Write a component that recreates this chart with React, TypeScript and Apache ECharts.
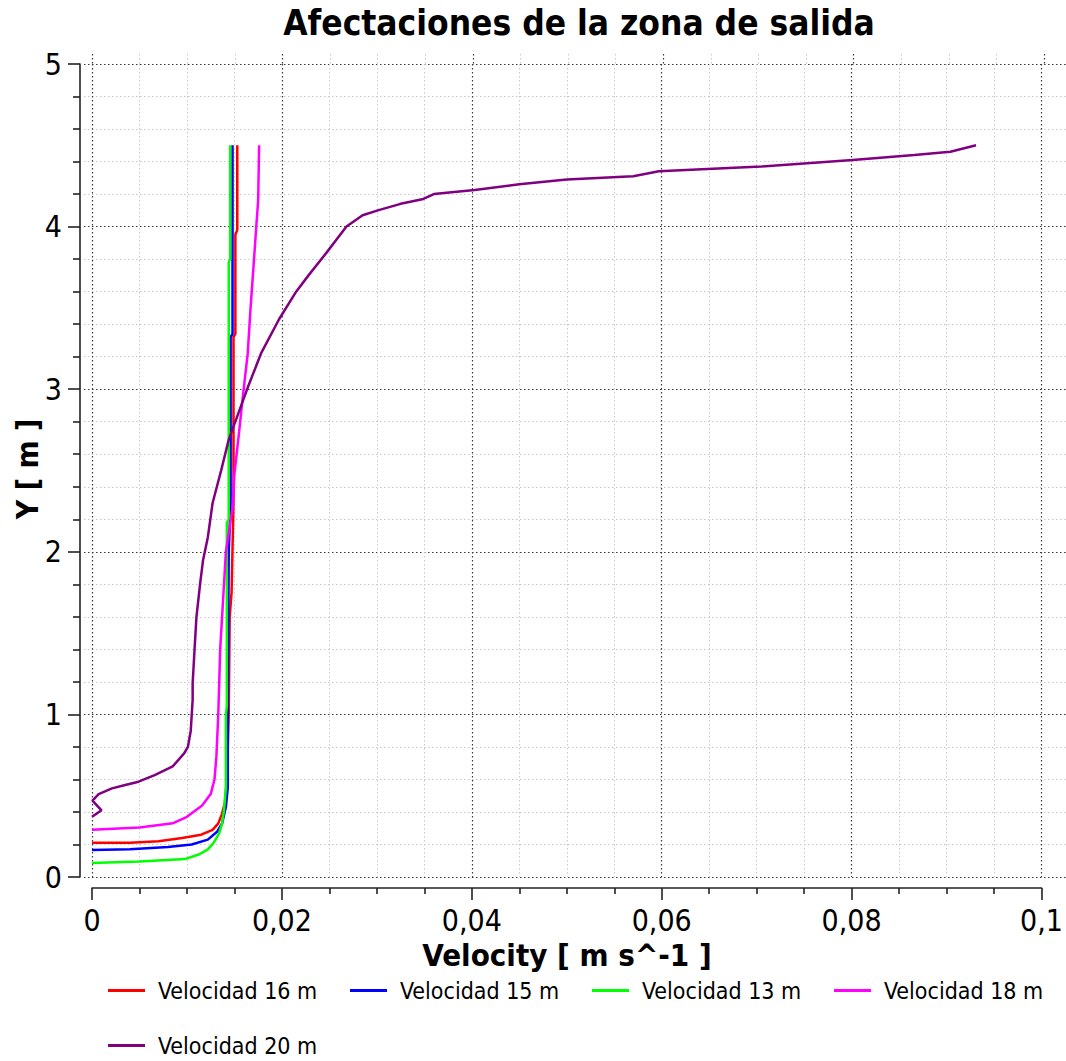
import React, { useEffect, useRef } from "react";
import * as echarts from "echarts";

// Velocity profiles (m/s) against height Y (m), one pair of arrays per series
const v16X = [0, 0.004, 0.007, 0.0095, 0.0115, 0.0127, 0.0133, 0.0137, 0.014, 0.0142, 0.0144, 0.0145, 0.0147, 0.0149, 0.0149, 0.0151, 0.0151, 0.0153, 0.0153];
const v16Y = [0.21, 0.21, 0.22, 0.24, 0.26, 0.29, 0.33, 0.39, 0.46, 0.6, 1.0, 1.6, 1.75, 2.3, 3.32, 3.34, 3.95, 3.98, 4.5];

const v15X = [0, 0.004, 0.008, 0.0105, 0.0122, 0.0132, 0.0137, 0.0141, 0.0143, 0.0143, 0.0144, 0.0146, 0.0146, 0.0148, 0.0148];
const v15Y = [0.166, 0.17, 0.185, 0.2, 0.23, 0.28, 0.33, 0.43, 0.55, 1.0, 2.0, 2.3, 3.32, 3.34, 4.5];

const v13X = [0, 0.005, 0.0098, 0.0113, 0.0122, 0.0128, 0.0134, 0.0137, 0.0139, 0.0141, 0.0141, 0.0142, 0.0142, 0.0144, 0.0144, 0.01455, 0.01455];
const v13Y = [0.086, 0.095, 0.11, 0.14, 0.17, 0.21, 0.27, 0.33, 0.41, 0.55, 1.0, 1.05, 2.18, 2.2, 3.78, 3.8, 4.5];

const v18X = [0, 0.005, 0.0085, 0.01, 0.0116, 0.0125, 0.0129, 0.0131, 0.0133, 0.0135, 0.0137, 0.0141, 0.0148, 0.015, 0.0155, 0.0158, 0.0164, 0.0167, 0.0171, 0.0173, 0.0175, 0.0176];
const v18Y = [0.29, 0.305, 0.33, 0.37, 0.44, 0.51, 0.6, 0.74, 1.0, 1.4, 1.6, 2.0, 2.27, 2.48, 2.74, 2.91, 3.22, 3.5, 3.83, 4.0, 4.16, 4.5];

const v20X = [0, 0.001, 0.00005, 0.0007, 0.0021, 0.0035, 0.0049, 0.0066, 0.0085, 0.0097, 0.0101, 0.0104, 0.0106, 0.0106, 0.0108, 0.011, 0.0114, 0.0117, 0.0122, 0.0127, 0.0136, 0.0144, 0.0154, 0.0164, 0.0178, 0.0197, 0.0215, 0.0228, 0.0247, 0.0268, 0.0285, 0.0301, 0.0325, 0.0349, 0.036, 0.0403, 0.045, 0.05, 0.057, 0.0597, 0.0705, 0.0801, 0.0866, 0.0904, 0.0931];
const v20Y = [0.37, 0.41, 0.47, 0.51, 0.545, 0.566, 0.586, 0.627, 0.68, 0.76, 0.8, 0.9, 1.09, 1.19, 1.4, 1.6, 1.81, 1.95, 2.09, 2.3, 2.5, 2.69, 2.85, 3.01, 3.22, 3.43, 3.6, 3.7, 3.84, 4.0, 4.07, 4.1, 4.14, 4.17, 4.2, 4.225, 4.26, 4.29, 4.31, 4.34, 4.37, 4.41, 4.44, 4.46, 4.5];

const seriesNames = ["Velocidad 16 m", "Velocidad 15 m", "Velocidad 13 m", "Velocidad 18 m", "Velocidad 20 m"];
const seriesColors = ["#ff0000", "#0000ff", "#00ff00", "#ff00ff", "#800080"];
const seriesX = [v16X, v15X, v13X, v18X, v20X];
const seriesY = [v16Y, v15Y, v13Y, v18Y, v20Y];

const xTicks = { min: 0, max: 0.1, step: 0.02, minorSplit: 4 };
const yTicks = { min: 0, max: 5, step: 1, minorSplit: 5 };

const FONT = "'DejaVu Sans Condensed', 'DejaVu Sans', sans-serif";

const majorGrid = { color: "#3a3a3a", width: 1.2, type: [1.5, 2.5] as number[] };
const minorGrid = { color: "#c8c8c8", width: 1, type: [1.5, 2.5] as number[] };
const axisStroke = { color: "#222", width: 1.6 };

function fmt(v: number): string {
  return String(+v.toFixed(3)).replace(".", ",");
}

// Axis that only contributes dotted grid lines (used for the small grid margins)
function gridOnlyAxis(ticks: typeof xTicks, gridIndex: number) {
  return {
    type: "value",
    gridIndex,
    min: ticks.min,
    max: ticks.max,
    interval: ticks.step,
    axisLine: { show: false },
    axisTick: { show: false },
    axisLabel: { show: false },
    minorTick: { show: false, splitNumber: ticks.minorSplit },
    splitLine: { show: true, lineStyle: majorGrid },
    minorSplitLine: { show: true, lineStyle: minorGrid },
  };
}

function hiddenAxis(gridIndex: number) {
  return { type: "value", gridIndex, show: false, min: 0, max: 1, splitLine: { show: false } };
}

export default function App() {
  const ref = useRef<HTMLDivElement>(null);

  useEffect(() => {
    if (!ref.current) return;
    const chart = echarts.init(ref.current, undefined, { renderer: "svg" });

    const legendLefts = [108, 350, 592, 834, 108];
    const legendTops = [979, 979, 979, 979, 1034];

    const option: any = {
      animation: false,
      backgroundColor: "#fff",
      grid: [
        { left: 92, top: 64, width: 952, height: 813, containLabel: false },
        // right margin: horizontal grid lines run on to the edge
        { left: 1044, top: 64, width: 22, height: 813, containLabel: false },
        // left margin: horizontal grid lines start slightly before x = 0
        { left: 84, top: 64, width: 8, height: 813, containLabel: false },
        // top margin: vertical grid lines rise slightly above y = 5
        { left: 92, top: 54, width: 952, height: 10, containLabel: false },
      ],
      xAxis: [
        {
          type: "value",
          gridIndex: 0,
          min: xTicks.min,
          max: xTicks.max,
          interval: xTicks.step,
          offset: 11,
          axisLine: { show: true, onZero: false, lineStyle: axisStroke },
          axisTick: { show: true, length: 12, lineStyle: axisStroke },
          minorTick: { show: true, splitNumber: xTicks.minorSplit, length: 6, lineStyle: axisStroke },
          axisLabel: { margin: 17, fontSize: 30, color: "#000", fontFamily: FONT, formatter: fmt },
          splitLine: { show: true, lineStyle: majorGrid },
          minorSplitLine: { show: true, lineStyle: minorGrid },
        },
        hiddenAxis(1),
        hiddenAxis(2),
        gridOnlyAxis(xTicks, 3),
      ],
      yAxis: [
        {
          type: "value",
          gridIndex: 0,
          min: yTicks.min,
          max: yTicks.max,
          interval: yTicks.step,
          offset: 12,
          axisLine: { show: true, onZero: false, lineStyle: axisStroke },
          axisTick: { show: true, length: 12, lineStyle: axisStroke },
          minorTick: { show: true, splitNumber: yTicks.minorSplit, length: 7, lineStyle: axisStroke },
          axisLabel: { margin: 18, fontSize: 30, color: "#000", fontFamily: FONT, formatter: fmt },
          splitLine: { show: true, lineStyle: majorGrid },
          minorSplitLine: { show: true, lineStyle: minorGrid },
        },
        gridOnlyAxis(yTicks, 1),
        gridOnlyAxis(yTicks, 2),
        hiddenAxis(3),
      ],
      legend: seriesNames.map((name, i) => ({
        data: [name],
        left: legendLefts[i],
        top: legendTops[i],
        padding: 0,
        icon: "rect",
        itemWidth: 37,
        itemHeight: 3,
        selectedMode: false,
        textStyle: { fontSize: 23, color: "#000", fontFamily: FONT, padding: [0, 0, 0, 8] },
      })),
      series: seriesNames.map((name, i) => ({
        name,
        type: "line",
        xAxisIndex: 0,
        yAxisIndex: 0,
        data: seriesX[i].map((x, k) => [x, seriesY[i][k]]),
        showSymbol: false,
        symbol: "none",
        smooth: false,
        lineStyle: { color: seriesColors[i], width: 2.5 },
        itemStyle: { color: seriesColors[i] },
      })),
      graphic: [
        {
          type: "text",
          x: 579,
          y: 23,
          style: {
            text: "Afectaciones de la zona de salida",
            fontSize: 35,
            fontWeight: "bold",
            fontFamily: FONT,
            fill: "#000",
            textAlign: "center",
            textVerticalAlign: "middle",
          },
        },
        {
          type: "text",
          x: 567,
          y: 955,
          style: {
            text: "Velocity [ m s^-1 ]",
            fontSize: 31,
            fontWeight: "bold",
            fontFamily: FONT,
            fill: "#000",
            textAlign: "center",
            textVerticalAlign: "middle",
          },
        },
        {
          type: "text",
          x: 27,
          y: 469,
          rotation: Math.PI / 2,
          style: {
            text: "Y [ m ]",
            fontSize: 30,
            fontWeight: "bold",
            fontFamily: FONT,
            fill: "#000",
            textAlign: "center",
            textVerticalAlign: "middle",
          },
        },
      ],
    };

    chart.setOption(option);
    return () => chart.dispose();
  }, []);

  return (
    <div
      ref={ref}
      style={{ position: "fixed", left: 0, top: 0, width: 1066, height: 1061, background: "#fff" }}
    />
  );
}
